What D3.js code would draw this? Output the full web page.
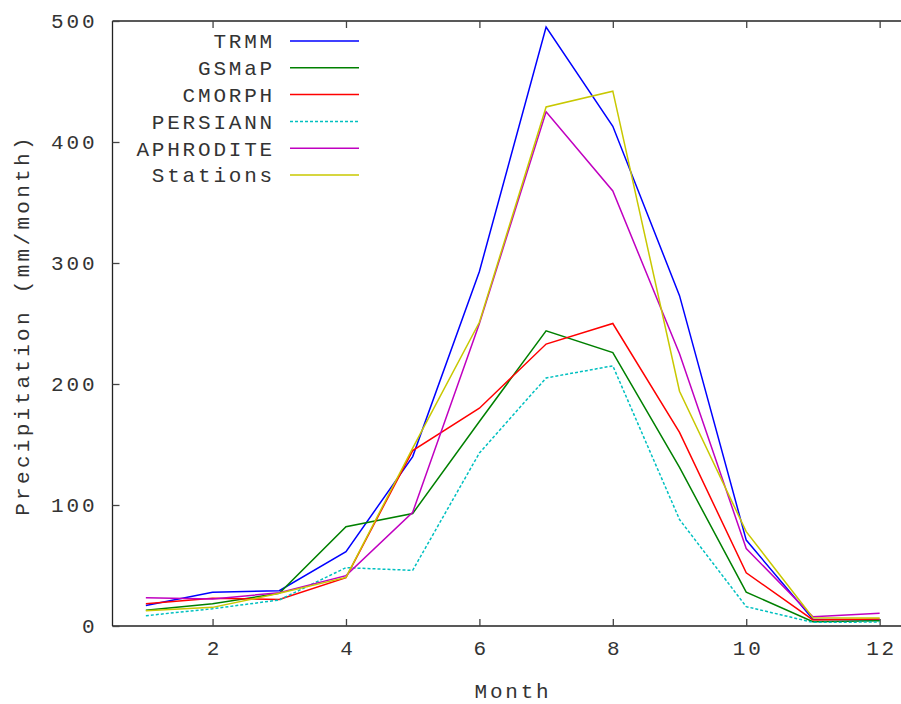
<!DOCTYPE html>
<html>
<head>
<meta charset="utf-8">
<script src="https://cdn.jsdelivr.net/npm/d3@7"></script>
<style>
  html, body { margin: 0; padding: 0; background: #fff; overflow: hidden; }
  text { font-family: "Liberation Mono", "DejaVu Sans Mono", monospace; fill: #333; }
</style>
</head>
<body>
<svg id="chart" width="901" height="704"></svg>
<script>
const months = [1, 2, 3, 4, 5, 6, 7, 8, 9, 10, 11, 12];
const seriesNames = ["TRMM", "GSMaP", "CMORPH", "PERSIANN", "APHRODITE", "Stations"];
const trmm      = [17, 27.8, 29.2, 61.4, 140, 293, 495, 413, 273, 71, 5.5, 5];
const gsmap     = [13, 18.4, 27, 82, 93, 169, 244, 226, 131, 28, 3.6, 4.4];
const cmorph    = [18.4, 22.9, 22, 40, 145, 180, 233, 250, 160, 44, 5, 5.8];
const persiann  = [8.5, 14.3, 21.5, 48.2, 46, 143, 205, 215, 88, 16, 3, 3.3];
const aphrodite = [23.4, 22.3, 27.5, 41.6, 94, 250, 425, 359.5, 225, 64, 7.7, 10.5];
const stations  = [12.7, 15.4, 27, 40.2, 147, 251, 429, 442, 194, 78, 6.9, 6.6];
const xTicks = [2, 4, 6, 8, 10, 12];
const yTicks = [0, 100, 200, 300, 400, 500];
const colors = ["#0000ff", "#008000", "#ff0000", "#00c0c0", "#c000c0", "#c8c800"];
const dashes = [null, null, null, "3,2", null, null];
const allSeries = [trmm, gsmap, cmorph, persiann, aphrodite, stations];

const svg = d3.select("#chart");
const x = d3.scaleLinear().domain([0.5, 12.5]).range([112.5, 913]);
const y = d3.scaleLinear().domain([0, 500]).range([626, 21]);

const fontSize = 21, ls = 2.8;

// frame
const frame = svg.append("g").attr("stroke", "#222").attr("stroke-width", 1.3).attr("fill", "none");
frame.append("line").attr("x1", x(0.5)).attr("x2", x(12.5)).attr("y1", y(0)).attr("y2", y(0));
frame.append("line").attr("x1", x(0.5)).attr("x2", x(12.5)).attr("y1", y(500)).attr("y2", y(500));
frame.append("line").attr("x1", x(0.5)).attr("x2", x(0.5)).attr("y1", y(0)).attr("y2", y(500));
frame.append("line").attr("x1", x(12.5)).attr("x2", x(12.5)).attr("y1", y(0)).attr("y2", y(500));

// axes with inward ticks
const xAxisB = d3.axisBottom(x).tickValues(xTicks).tickSizeInner(-7).tickSizeOuter(0).tickPadding(14).tickFormat(d3.format("d"));
const gxb = svg.append("g").attr("transform", `translate(0,${y(0)})`).call(xAxisB);
const xAxisT = d3.axisTop(x).tickValues(xTicks).tickSizeInner(-7).tickSizeOuter(0).tickFormat("");
const gxt = svg.append("g").attr("transform", `translate(0,${y(500)})`).call(xAxisT);
const yAxisL = d3.axisLeft(y).tickValues(yTicks).tickSizeInner(-7).tickSizeOuter(0).tickPadding(18).tickFormat(d3.format("d"));
const gyl = svg.append("g").attr("transform", `translate(${x(0.5)},0)`).call(yAxisL);

[gxb, gxt, gyl].forEach(g => {
  g.select(".domain").remove();
  g.selectAll(".tick line").attr("stroke", "#444").attr("stroke-width", 1.3);
  g.selectAll(".tick text")
    .attr("font-family", "Liberation Mono, monospace")
    .attr("font-size", fontSize)
    .attr("letter-spacing", ls)
    .attr("fill", "#333");
});
gxb.selectAll(".tick text").attr("dx", ls / 2);
gyl.selectAll(".tick text").attr("dx", ls);

// lines
const line = d3.line().x((d, i) => x(months[i])).y(d => y(d));
allSeries.forEach((s, k) => {
  svg.append("path")
    .datum(s)
    .attr("d", line)
    .attr("fill", "none")
    .attr("stroke", colors[k])
    .attr("stroke-width", 1.5)
    .attr("stroke-dasharray", dashes[k]);
});

// legend
const lg = svg.append("g");
seriesNames.forEach((name, k) => {
  const cy = 41 + k * 26.8;
  lg.append("text")
    .attr("x", 275)
    .attr("y", cy)
    .attr("dy", "0.35em")
    .attr("text-anchor", "end")
    .attr("font-size", fontSize)
    .attr("letter-spacing", ls)
    .text(name);
  lg.append("line")
    .attr("x1", 290).attr("x2", 359)
    .attr("y1", cy).attr("y2", cy)
    .attr("stroke", colors[k])
    .attr("stroke-width", 1.5)
    .attr("stroke-dasharray", dashes[k]);
});

// axis titles
svg.append("text")
  .attr("x", 513).attr("y", 698)
  .attr("text-anchor", "middle")
  .attr("font-size", fontSize)
  .attr("letter-spacing", ls)
  .text("Month");
svg.append("text")
  .attr("transform", "translate(29,325) rotate(-90)")
  .attr("text-anchor", "middle")
  .attr("font-size", fontSize)
  .attr("letter-spacing", 3.3)
  .text("Precipitation (mm/month)");
</script>
</body>
</html>
